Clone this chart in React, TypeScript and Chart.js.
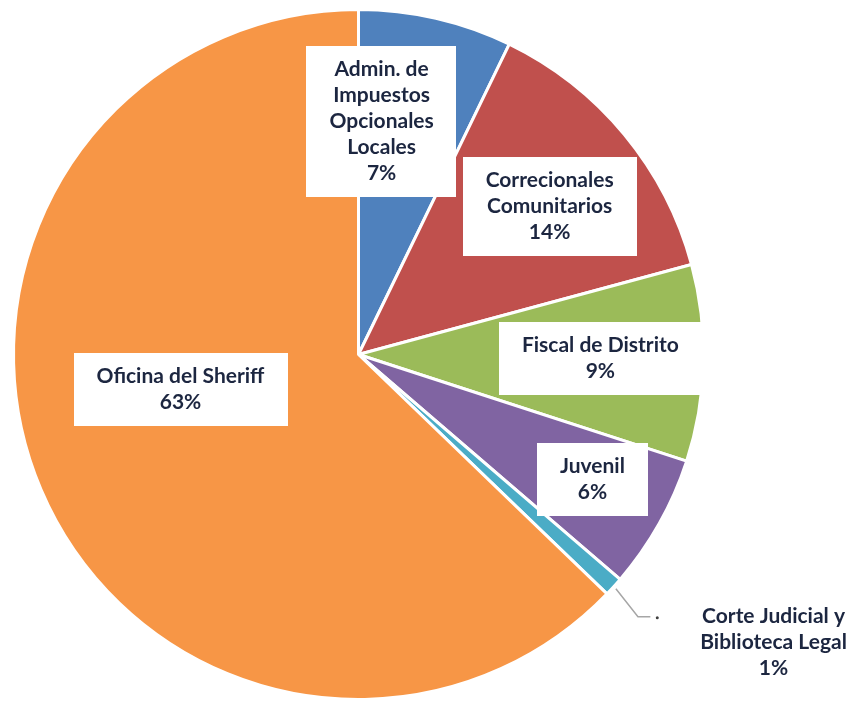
import React, { useEffect, useRef } from "react";
import { Chart, registerables } from "chart.js";

Chart.register(...registerables);

const categories: string[][] = [
  ["Admin. de", "Impuestos", "Opcionales", "Locales"],
  ["Correcionales", "Comunitarios"],
  ["Fiscal de Distrito"],
  ["Juvenil"],
  ["Corte Judicial y", "Biblioteca Legal"],
  ["Oficina del Sheriff"],
];
const values = [7.2, 13.6, 9.2, 6.3, 0.9, 62.8];
const colors = ["#4F81BD", "#C0504D", "#9BBB59", "#8064A2", "#4BACC6", "#F79646"];
// label centre offsets, in units of the pie radius, from the pie centre
const labelAnchors = [
  [0.067, -0.675],
  [0.554, -0.429],
  [0.701, 0.012],
  [0.678, 0.362],
  [1.203, 0.835],
  [-0.516, 0.101],
];
const labelBoxed = [true, true, true, true, false, true];

const TEXT_COLOR = "#1C2640";
const FONT = "bold 21px Lato, 'Open Sans', sans-serif";
const LINE_H = 26;

const labelPlugin = {
  id: "boxLabels",
  afterDatasetsDraw(chart: any) {
    const ctx = chart.ctx as CanvasRenderingContext2D;
    const meta = chart.getDatasetMeta(0);
    const total = values.reduce((a, b) => a + b, 0);
    ctx.save();
    ctx.font = FONT;
    ctx.textAlign = "center";
    ctx.textBaseline = "middle";
    meta.data.forEach((arc: any, i: number) => {
      const { x, y, outerRadius, startAngle, endAngle } = arc.getProps(
        ["x", "y", "outerRadius", "startAngle", "endAngle"],
        true
      );
      const r = outerRadius;
      const cx = x + labelAnchors[i][0] * r;
      const cy = y + labelAnchors[i][1] * r;
      const lines = [...categories[i], Math.round((values[i] / total) * 100) + "%"];
      const maxW = Math.max(...lines.map((l) => ctx.measureText(l).width));
      const bw = maxW + 46;
      const bh = lines.length * LINE_H + 21;
      if (labelBoxed[i]) {
        ctx.fillStyle = "#FFFFFF";
        ctx.fillRect(Math.round(cx - bw / 2), Math.round(cy - bh / 2), Math.round(bw), Math.round(bh));
      } else {
        // leader line
        const mid = (startAngle + endAngle) / 2;
        const sx = x + Math.cos(mid) * (r + 3);
        const sy = y + Math.sin(mid) * (r + 3);
        const ex = x + 0.81 * r;
        const ey = y + 0.76 * r;
        ctx.strokeStyle = "#A6A6A6";
        ctx.lineWidth = 1.5;
        ctx.beginPath();
        ctx.moveTo(sx, sy);
        ctx.lineTo(ex, ey);
        ctx.lineTo(x + 0.846 * r, ey);
        ctx.stroke();
        ctx.fillStyle = "#404040";
        ctx.beginPath();
        ctx.arc(x + 0.866 * r, ey + 1, 1.5, 0, Math.PI * 2);
        ctx.fill();
      }
      ctx.fillStyle = TEXT_COLOR;
      const top = cy - ((lines.length - 1) * LINE_H) / 2;
      lines.forEach((l, k) => ctx.fillText(l, cx, top + k * LINE_H));
    });
    ctx.restore();
  },
};

export default function App() {
  const ref = useRef<HTMLCanvasElement | null>(null);
  useEffect(() => {
    document.body.style.margin = "0";
    document.body.style.background = "#FFFFFF";
    const chart = new Chart(ref.current!, {
      type: "pie",
      data: {
        labels: categories,
        datasets: [
          {
            data: values,
            backgroundColor: colors,
            borderColor: "#FFFFFF",
            borderWidth: 3,
          },
        ],
      },
      options: {
        responsive: false,
        animation: false,
        devicePixelRatio: 1,
        layout: { padding: { left: 12, top: 8, right: 147, bottom: 3 } },
        plugins: {
          legend: { display: false },
          tooltip: { enabled: false },
        },
      },
      plugins: [labelPlugin],
    });
    return () => chart.destroy();
  }, []);
  return (
    <div style={{ position: "absolute", left: 0, top: 0, width: 852, height: 704, background: "#FFFFFF" }}>
      <canvas ref={ref} width={852} height={704} style={{ display: "block", width: 852, height: 704 }} />
    </div>
  );
}
